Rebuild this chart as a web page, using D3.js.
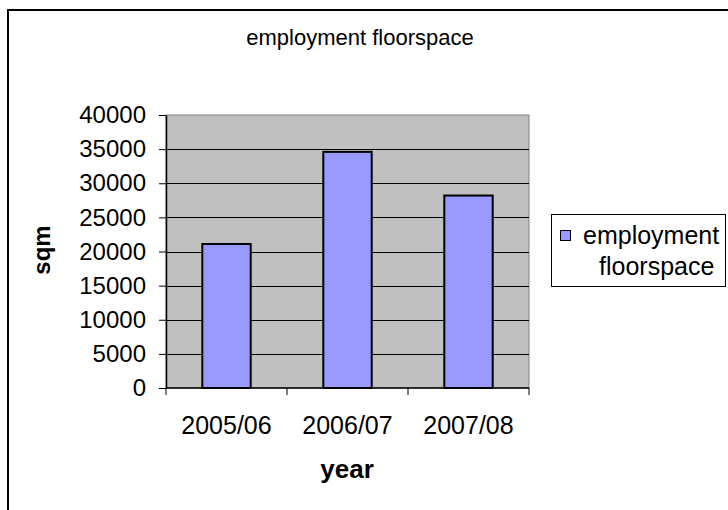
<!DOCTYPE html>
<html><head><meta charset="utf-8">
<script src="https://cdn.jsdelivr.net/npm/d3@7"></script>
<style>body{margin:0;background:#fff}svg{display:block;font-family:Arial,"Liberation Sans",sans-serif}</style>
</head><body><svg id="c" width="728" height="510"></svg>
<script>
const categories = ["2005/06", "2006/07", "2007/08"];
const values = [21100, 34600, 28200];
const yTicks = [0, 5000, 10000, 15000, 20000, 25000, 30000, 35000, 40000];
const seriesName = ["employment", "floorspace"];
const title = "employment floorspace";

const svg = d3.select("#c");
const L = 166, R = 529, T = 115, B = 388;

// outer frame
svg.append("path").attr("d", "M8,530 V10 H740").attr("fill", "none").attr("stroke", "#000").attr("stroke-width", 2);

const x = d3.scaleBand().domain(categories).range([L, R]).paddingInner(0.6).paddingOuter(0.3);
const y = d3.scaleLinear().domain([0, 40000]).range([B, T]);

// plot area
svg.append("rect").attr("x", L).attr("y", T).attr("width", R - L).attr("height", B - T)
  .attr("fill", "#c0c0c0").attr("stroke", "#808080").attr("stroke-width", 1);

// gridlines
svg.append("g").selectAll("line").data(yTicks.filter(d => d > 0 && d < 40000)).join("line")
  .attr("x1", L).attr("x2", R).attr("y1", d => Math.round(y(d)) + 0.5).attr("y2", d => Math.round(y(d)) + 0.5)
  .attr("stroke", "#000").attr("stroke-width", 1);

// bars
svg.append("g").selectAll("rect").data(values).join("rect")
  .attr("x", (d, i) => x(categories[i])).attr("width", x.bandwidth())
  .attr("y", d => y(d)).attr("height", d => B - y(d))
  .attr("fill", "#9999ff").attr("stroke", "#000").attr("stroke-width", 2);

// y axis
const yAxis = d3.axisLeft(y).tickValues(yTicks).tickSize(7).tickSizeOuter(0).tickPadding(13).tickFormat(d3.format("d"));
const gy = svg.append("g").attr("transform", `translate(${L},0)`).call(yAxis);
gy.select(".domain").attr("stroke", "#000").attr("stroke-width", 1.5);
gy.selectAll("line").attr("stroke", "#000");
gy.selectAll("text").attr("font-size", 24).attr("fill", "#000").attr("font-family", "Arial, 'Liberation Sans', sans-serif");

// x axis with ticks at category boundaries
const gx = svg.append("g").attr("transform", `translate(0,${B})`);
gx.append("line").attr("x1", L).attr("x2", R).attr("y1", 0).attr("y2", 0).attr("stroke", "#000").attr("stroke-width", 1.5);
const bounds = d3.range(categories.length + 1).map(i => L + i * x.step());
gx.selectAll("line.t").data(bounds).join("line").attr("class", "t")
  .attr("x1", d => d).attr("x2", d => d).attr("y1", 0).attr("y2", 7).attr("stroke", "#000");
gx.selectAll("text").data(categories).join("text")
  .attr("x", d => x(d) + x.bandwidth() / 2).attr("y", 46)
  .attr("text-anchor", "middle").attr("font-size", 25).text(d => d);

// title
svg.append("text").attr("x", 360).attr("y", 45).attr("text-anchor", "middle").attr("font-size", 22).text(title);

// axis titles
svg.append("text").attr("x", 347).attr("y", 478).attr("text-anchor", "middle").attr("font-size", 26).attr("font-weight", "bold").text("year");
svg.append("text").attr("transform", "translate(50,250) rotate(-90)").attr("text-anchor", "middle").attr("font-size", 24).attr("font-weight", "bold").text("sqm");

// legend
const lg = svg.append("g");
lg.append("rect").attr("x", 551.5).attr("y", 214.5).attr("width", 174).attr("height", 72).attr("fill", "#fff").attr("stroke", "#000");
lg.append("rect").attr("x", 560.5).attr("y", 230.5).attr("width", 10).attr("height", 10).attr("fill", "#9999ff").attr("stroke", "#000");
lg.append("text").attr("x", 583).attr("y", 244).attr("font-size", 25).text(seriesName[0]);
lg.append("text").attr("x", 599).attr("y", 275).attr("font-size", 25).text(seriesName[1]);
</script></body></html>
